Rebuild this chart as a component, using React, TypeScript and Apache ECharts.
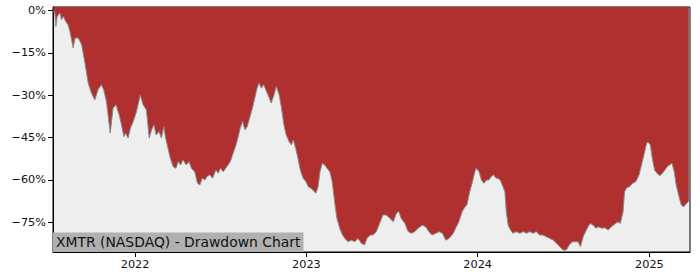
import React, { useEffect, useRef } from "react";
import * as echarts from "echarts";

const dates: string[] = [
  "2021-07-11","2021-07-14","2021-07-16","2021-07-19","2021-07-25","2021-07-28","2021-08-01","2021-08-06","2021-08-11","2021-08-15",
  "2021-08-22","2021-08-26","2021-09-02","2021-09-09","2021-09-16","2021-09-23","2021-09-30","2021-10-07","2021-10-14","2021-10-21",
  "2021-10-26","2021-11-01","2021-11-09","2021-11-15","2021-11-21","2021-11-28","2021-12-03","2021-12-08","2021-12-12","2021-12-17",
  "2021-12-22","2021-12-28","2022-01-04","2022-01-12","2022-01-18","2022-01-25","2022-01-31","2022-02-05","2022-02-10","2022-02-15",
  "2022-02-21","2022-02-26","2022-03-03","2022-03-07","2022-03-12","2022-03-17","2022-03-23","2022-03-29","2022-04-03","2022-04-08",
  "2022-04-13","2022-04-20","2022-04-26","2022-05-01","2022-05-08","2022-05-14","2022-05-19","2022-05-24","2022-05-30","2022-06-03",
  "2022-06-09","2022-06-15","2022-06-22","2022-06-27","2022-07-02","2022-07-08","2022-07-13","2022-07-18","2022-07-23","2022-07-29",
  "2022-08-04","2022-08-08","2022-08-13","2022-08-18","2022-08-23","2022-08-28","2022-09-02","2022-09-08","2022-09-13","2022-09-18",
  "2022-09-22","2022-09-27","2022-10-02","2022-10-08","2022-10-14","2022-10-18","2022-10-24","2022-10-29","2022-11-04","2022-11-09",
  "2022-11-14","2022-11-19","2022-11-25","2022-11-30","2022-12-04","2022-12-09","2022-12-14","2022-12-19","2022-12-25","2022-12-31",
  "2023-01-05","2023-01-10","2023-01-15","2023-01-21","2023-01-26","2023-01-30","2023-02-04","2023-02-09","2023-02-14","2023-02-20",
  "2023-02-25","2023-03-03","2023-03-07","2023-03-13","2023-03-19","2023-03-24","2023-03-31","2023-04-07","2023-04-14","2023-04-21",
  "2023-04-28","2023-05-05","2023-05-10","2023-05-17","2023-05-23","2023-05-30","2023-06-06","2023-06-13","2023-06-20","2023-06-28",
  "2023-07-05","2023-07-12","2023-07-17","2023-07-22","2023-07-30","2023-08-06","2023-08-13","2023-08-20","2023-08-27","2023-09-05",
  "2023-09-12","2023-09-19","2023-09-26","2023-10-04","2023-10-11","2023-10-18","2023-10-25","2023-11-01","2023-11-10","2023-11-15",
  "2023-11-22","2023-11-29","2023-12-05","2023-12-09","2023-12-15","2023-12-21","2023-12-26","2023-12-29","2024-01-04","2024-01-09",
  "2024-01-14","2024-01-20","2024-01-25","2024-01-30","2024-02-04","2024-02-09","2024-02-13","2024-02-18","2024-02-24","2024-02-28",
  "2024-03-02","2024-03-06","2024-03-11","2024-03-16","2024-03-23","2024-03-31","2024-04-07","2024-04-14","2024-04-21","2024-04-28",
  "2024-05-05","2024-05-12","2024-05-19","2024-05-26","2024-06-03","2024-06-10","2024-06-17","2024-06-24","2024-07-01","2024-07-08",
  "2024-07-14","2024-07-21","2024-07-28","2024-08-02","2024-08-07","2024-08-13","2024-08-18","2024-08-23","2024-08-28","2024-09-03",
  "2024-09-09","2024-09-14","2024-09-21","2024-09-28","2024-10-05","2024-10-12","2024-10-16","2024-10-21","2024-10-26","2024-10-31",
  "2024-11-06","2024-11-09","2024-11-14","2024-11-20","2024-11-26","2024-12-03","2024-12-10","2024-12-17","2024-12-22","2024-12-26",
  "2024-12-29","2025-01-03","2025-01-07","2025-01-12","2025-01-17","2025-01-23","2025-01-29","2025-02-03","2025-02-08","2025-02-13",
  "2025-02-18","2025-02-23","2025-02-27","2025-03-05","2025-03-10","2025-03-15","2025-03-21","2025-03-26",
];

const drawdown: number[] = [
  0, -1.2, -5.7, -2.1, -0.9, -3.3, -2.1, -3.9, -5.1, -7.4,
  -13.3, -9.8, -9.8, -12.2, -18.6, -25.7, -29.3, -31.7, -28.1, -26.3,
  -28.1, -32.3, -43.5, -34.6, -33.4, -37.0, -40.5, -44.7, -43.5, -45.2,
  -41.7, -39.3, -35.8, -29.9, -33.4, -35.2, -45.2, -42.3, -40.5, -44.1,
  -42.9, -45.2, -41.1, -45.2, -48.8, -52.3, -55.3, -55.9, -53.5, -54.7,
  -52.9, -54.7, -53.5, -55.9, -57.1, -61.2, -61.8, -59.4, -60.0, -58.8,
  -58.2, -59.4, -56.5, -57.6, -55.9, -57.1, -55.9, -54.7, -53.5, -50.5,
  -47.6, -45.2, -41.7, -39.3, -42.3, -41.1, -38.1, -34.6, -31.0, -27.5,
  -25.7, -27.5, -26.3, -28.7, -31.0, -32.8, -29.9, -26.9, -29.9, -34.6,
  -40.5, -44.1, -46.4, -47.6, -45.8, -48.8, -52.3, -56.5, -59.4, -60.6,
  -62.4, -62.9, -63.6, -64.7, -62.4, -57.1, -54.1, -54.7, -55.9, -57.1,
  -60.6, -68.9, -73.6, -77.1, -79.5, -80.7, -81.9, -81.3, -81.9, -80.7,
  -82.4, -83.0, -80.7, -79.5, -79.5, -78.3, -75.4, -72.4, -72.4, -73.6,
  -74.8, -71.8, -71.2, -73.6, -75.4, -78.3, -78.9, -78.3, -77.1, -76.0,
  -76.6, -78.3, -79.5, -78.9, -78.3, -78.9, -81.3, -80.7, -78.9, -77.1,
  -74.8, -71.2, -69.5, -68.9, -64.2, -60.6, -57.1, -55.9, -57.1, -60.0,
  -61.2, -60.0, -60.0, -58.8, -58.2, -59.4, -59.4, -60.0, -62.4, -64.2,
  -71.2, -76.0, -77.7, -78.9, -78.3, -78.9, -78.3, -78.9, -78.3, -78.9,
  -78.3, -79.5, -79.5, -80.1, -80.7, -81.3, -82.4, -83.6, -84.8, -84.8,
  -83.0, -81.9, -81.9, -81.9, -83.6, -80.1, -78.3, -76.6, -75.4, -76.0,
  -77.1, -76.6, -77.1, -76.9, -77.7, -76.6, -76.0, -75.4, -74.8, -75.4,
  -71.2, -64.2, -62.7, -62.4, -61.2, -60.6, -58.2, -53.5, -50.0, -47.0,
  -46.6, -47.6, -52.3, -56.5, -57.6, -58.5, -57.6, -56.5, -55.3, -54.7,
  -54.1, -57.1, -61.8, -65.9, -68.9, -69.5, -68.3, -67.5,
];

const yTicks: number[] = [0, -15, -30, -45, -60, -75];
const xTickYears: number[] = [2022, 2023, 2024, 2025];
const xMinDate = "2021-07-10T00:00:00";
const xMaxDate = "2025-03-28T12:00:00";
const titleText = "XMTR (NASDAQ) - Drawdown Chart";

function ts(s: string): number {
  const [d, t] = s.split("T");
  const [y, m, dd] = d.split("-").map(Number);
  const hh = t ? Number(t.split(":")[0]) : 0;
  return Date.UTC(y, m - 1, dd, hh);
}

export default function App() {
  const ref = useRef<HTMLDivElement>(null);
  useEffect(() => {
    if (!ref.current) return;
    const chart = echarts.init(ref.current, null, { renderer: "svg" });
    const font = "DejaVu Sans";
    const seriesData = dates.map((d, i) => [ts(d), drawdown[i]]);
    const xTicks = xTickYears.map((y) => Date.UTC(y, 0, 1));
    chart.setOption({
      animation: false,
      backgroundColor: "#ffffff",
      grid: {
        left: 53,
        right: 10,
        top: 7,
        bottom: 28,
        show: true,
        backgroundColor: "#eeeeee",
        borderColor: "#000000",
        borderWidth: 1,
      },
      title: {
        text: titleText,
        left: 53,
        top: 232.5,
        padding: [2, 3, 2, 3],
        backgroundColor: "#b0b0b0",
        textStyle: {
          fontFamily: font,
          fontSize: 13.9,
          fontWeight: "normal",
          color: "#111111",
          lineHeight: 15.5,
        },
      },
      xAxis: {
        type: "value",
        min: ts(xMinDate),
        max: ts(xMaxDate),
        splitLine: { show: false },
        axisLine: { show: true, onZero: false, lineStyle: { color: "#000", width: 1 } },
        axisTick: {
          show: true,
          length: 5,
          lineStyle: { color: "#000" },
          customValues: xTicks,
        },
        axisLabel: {
          customValues: xTicks,
          fontFamily: font,
          fontSize: 11.3,
          color: "#111",
          margin: 7,
          formatter: (v: number) => String(new Date(v).getUTCFullYear()),
        },
      },
      yAxis: {
        type: "value",
        min: -85.5,
        max: 1.2,
        splitLine: { show: false },
        axisLine: { show: true, lineStyle: { color: "#000", width: 1 } },
        axisTick: {
          show: true,
          length: 5,
          lineStyle: { color: "#000" },
          customValues: yTicks,
        },
        axisLabel: {
          customValues: yTicks,
          fontFamily: font,
          fontSize: 11.3,
          color: "#111",
          margin: 7,
          formatter: (v: number) =>
            (v < 0 ? "\u2212" + Math.abs(v) : String(v)) + "%",
        },
      },
      series: [
        {
          type: "line",
          data: seriesData,
          showSymbol: false,
          symbol: "none",
          lineStyle: { color: "#8c8c8c", width: 1 },
          areaStyle: { color: "#b03030", opacity: 1, origin: "end" },
          z: 1,
        },
      ],
    });
    return () => chart.dispose();
  }, []);
  return (
    <div
      ref={ref}
      style={{ position: "fixed", left: 0, top: 0, width: 700, height: 280 }}
    />
  );
}
